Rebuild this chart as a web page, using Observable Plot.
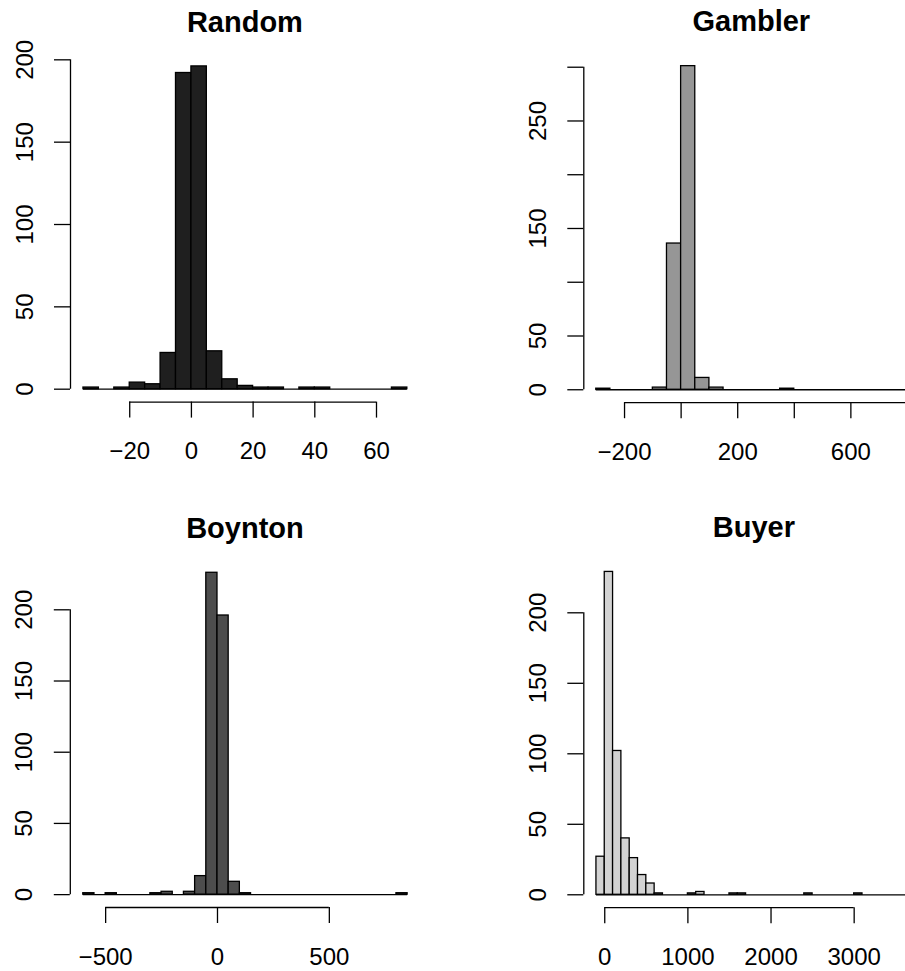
<!DOCTYPE html>
<html><head><meta charset="utf-8">
<script src="https://cdn.jsdelivr.net/npm/d3@7"></script>
<script src="https://cdn.jsdelivr.net/npm/@observablehq/plot@0.6"></script>
<style>
body{margin:0;background:#fff;}
#wrap{position:relative;width:905px;height:971px;overflow:hidden;background:#fff;font-family:"Liberation Sans",Arial,Helvetica,sans-serif;color:#000;}
.panel{position:absolute;}
.title{position:absolute;width:300px;text-align:center;font-weight:bold;font-size:29px;line-height:1;white-space:nowrap;}
</style></head><body><div id="wrap"></div>
<script>
// Panel titles
const titles = ["Random", "Gambler", "Boynton", "Buyer"];

// Histogram counts per bin
const randomCounts  = [1,0,1,4,3,22,192,196,23,6,2,1,1,0,1,1,0,0,0,0,1];             // bins of 5 from -35
const gamblerCounts = [1,0,0,0,2,136,301,11,2,0,0,0,0,1,0,0,0,0,0,0,0,0];           // bins of 50 from -300
const boyntonCounts = [1,0,1,0,0,0,1,2,0,2,13,226,196,9,1,0,0,0,0,0,0,0,0,0,0,0,0,0,1]; // bins of 50 from -600
const buyerCounts   = [27,229,102,40,26,14,8,1,0,0,0,1,2,0,0,0,1,1,0,0,0,0,0,0,0,1,0,0,0,0,0,1,0,0,0,0,0,0]; // bins of 100 from -100

// Bin starts and widths
const binStarts = [-35, -300, -600, -100];
const binWidths = [5, 50, 50, 100];

// Tick values and labelled ticks
const randomXTicks  = [-20, 0, 20, 40, 60];
const randomXLabels = [-20, 0, 20, 40, 60];
const gamblerXTicks  = [-200, 0, 200, 400, 600, 800];
const gamblerXLabels = [-200, 200, 600];
const boyntonXTicks  = [-500, 0, 500];
const boyntonXLabels = [-500, 0, 500];
const buyerXTicks  = [0, 1000, 2000, 3000];
const buyerXLabels = [0, 1000, 2000, 3000];

const yTicks200 = [0, 50, 100, 150, 200];
const yTicks300 = [0, 50, 100, 150, 200, 250, 300];
const gamblerYLabels = [0, 50, 150, 250];

// Fill colours
const fills = ["#1f1f1f", "#969696", "#4d4d4d", "#d3d3d3"];

// Layout (pixel positions of each panel and its plot region)
const layouts = [
  {left: 0,   top: 0,   w: 452, h: 486, x: [70, 419.8],   y: [401.6, 53]},
  {left: 452, top: 0,   w: 453, h: 486, x: [131.3, 467.4], y: [402.2, 52.7]},
  {left: 0,   top: 486, w: 452, h: 485, x: [69.8, 420.1], y: [421, 73.4]},
  {left: 452, top: 486, w: 453, h: 485, x: [131.3, 472.5], y: [421.2, 72.5]}
];

const panels = [
  {counts: randomCounts,  xTicks: randomXTicks,  xLabels: randomXLabels,  yTicks: yTicks200, yLabels: yTicks200},
  {counts: gamblerCounts, xTicks: gamblerXTicks, xLabels: gamblerXLabels, yTicks: yTicks300, yLabels: gamblerYLabels},
  {counts: boyntonCounts, xTicks: boyntonXTicks, xLabels: boyntonXLabels, yTicks: yTicks200, yLabels: yTicks200},
  {counts: buyerCounts,   xTicks: buyerXTicks,   xLabels: buyerXLabels,   yTicks: yTicks200, yLabels: yTicks200}
];

const fmt = d => d < 0 ? "\u2212" + Math.abs(d) : String(d);
const FONT = '"Liberation Sans", Arial, Helvetica, sans-serif';
const SW = 1.3;
const wrap = document.getElementById("wrap");

panels.forEach((p, k) => {
  const start = binStarts[k], step = binWidths[k];
  const data = p.counts.map((c, i) => ({x0: start + i * step, x1: start + (i + 1) * step, count: c}));
  const lo = start, hi = start + p.counts.length * step;
  const pad = 0.04 * (hi - lo);
  const ymax = d3.max(p.counts);
  const L = layouts[k];
  const yLow = -0.04 * ymax;
  const svg = Plot.plot({
    width: L.w, height: L.h,
    marginLeft: L.x[0], marginRight: Math.max(0, L.w - L.x[1]),
    marginTop: L.y[1], marginBottom: L.h - L.y[0],
    x: {domain: [lo - pad, hi + pad], range: L.x, label: null},
    y: {domain: [yLow, 1.04 * ymax], range: L.y, label: null},
    style: {fontFamily: FONT, fontSize: "24px", color: "black", background: "transparent", overflow: "hidden"},
    marks: [
      Plot.rect(data, {x1: "x0", x2: "x1", y1: 0, y2: "count", fill: fills[k], stroke: "black", strokeWidth: SW}),
      Plot.ruleY([0], {x1: lo, x2: hi, stroke: "black", strokeWidth: SW}),
      Plot.ruleY([yLow], {x1: p.xTicks[0], x2: p.xTicks[p.xTicks.length - 1], stroke: "black", strokeWidth: SW}),
      Plot.ruleX([lo - pad], {y1: p.yTicks[0], y2: p.yTicks[p.yTicks.length - 1], stroke: "black", strokeWidth: SW}),
      Plot.axisX({ticks: p.xTicks, tickSize: 16, tickPadding: 24, strokeWidth: SW, fontSize: 24, fill: "black", label: null,
        tickFormat: d => p.xLabels.includes(d) ? fmt(d) : ""}),
      Plot.axisY({ticks: p.yTicks, tickSize: 16, tickPadding: 22, tickRotate: -90, strokeWidth: SW, fontSize: 24, fill: "black", label: null,
        tickFormat: d => p.yLabels.includes(d) ? fmt(d) : ""})
    ]
  });
  const div = document.createElement("div");
  div.className = "panel";
  div.style.left = L.left + "px";
  div.style.top = L.top + "px";
  div.style.width = L.w + "px";
  div.style.height = L.h + "px";
  div.appendChild(svg);
  wrap.appendChild(div);

  const t = document.createElement("div");
  t.className = "title";
  t.textContent = titles[k];
  t.style.left = (L.left + (L.x[0] + L.x[1]) / 2 - 150) + "px";
  t.style.top = (L.top + L.y[1] - 21 - 24.5) + "px";
  wrap.appendChild(t);
});
</script></body></html>
